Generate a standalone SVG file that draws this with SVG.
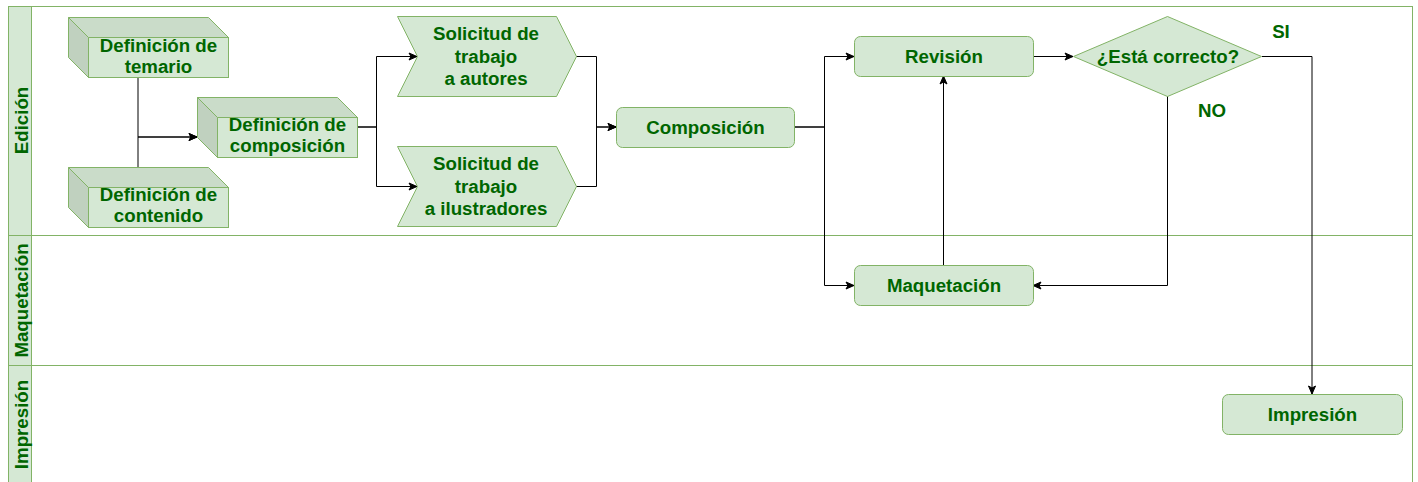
<svg xmlns="http://www.w3.org/2000/svg" width="1418" height="482" viewBox="0 0 1418 482">
<style>
.lane{fill:#ffffff;stroke:#82b366;stroke-width:1}
.hdr{fill:#d5e8d4;stroke:#82b366;stroke-width:1}
.box{fill:#d5e8d4;stroke:#82b366;stroke-width:1}
.top{fill:#cadcc9;stroke:#82b366;stroke-width:1}
.side{fill:#c0d1bf;stroke:#82b366;stroke-width:1}
.t{font-family:"Liberation Sans",Arial,Helvetica,sans-serif;font-weight:bold;font-size:18.7px;fill:#006600;text-anchor:middle}
.c{fill:none;stroke:#000000;stroke-width:1}
</style>
<defs>
<marker id="arr" markerUnits="userSpaceOnUse" markerWidth="10" markerHeight="10" viewBox="0 0 10 10" refX="9" refY="5" orient="auto">
<path d="M1,1.5 L9,5 L1,8.5 L3,5 Z" fill="#000000" stroke="#000000" stroke-width="1"/>
</marker>
</defs>

<g id="lane-edicion">
<rect class="lane" x="8.5" y="6.5" width="1404" height="229"/>
<rect class="hdr" x="8.5" y="6.5" width="23" height="229"/>
<text class="t" transform="translate(28,120.5) rotate(-90)">Edición</text>
</g>
<g id="lane-maquetacion">
<rect class="lane" x="8.5" y="235.5" width="1404" height="130"/>
<rect class="hdr" x="8.5" y="235.5" width="23" height="130"/>
<text class="t" transform="translate(28,300.5) rotate(-90)">Maquetación</text>
</g>
<g id="lane-impresion">
<rect class="lane" x="8.5" y="365.5" width="1404" height="120"/>
<rect class="hdr" x="8.5" y="365.5" width="23" height="120"/>
<text class="t" transform="translate(28,424.5) rotate(-90)">Impresión</text>
</g>

<g id="connectors">
<path class="c" d="M138,77 V137 H197" marker-end="url(#arr)"/>
<path class="c" d="M138,167 V137 H197" marker-end="url(#arr)"/>
<path class="c" d="M357,127 H376.5 V56.5 H417" marker-end="url(#arr)"/>
<path class="c" d="M357,127 H376.5 V186.5 H417" marker-end="url(#arr)"/>
<path class="c" d="M576,56.5 H596.5 V127 H616" marker-end="url(#arr)"/>
<path class="c" d="M576,186.5 H596.5 V127 H616" marker-end="url(#arr)"/>
<path class="c" d="M794,127 H824.5 V56.5 H854" marker-end="url(#arr)"/>
<path class="c" d="M794,127 H824.5 V285.5 H854" marker-end="url(#arr)"/>
<path class="c" d="M1033,56.5 H1073" marker-end="url(#arr)"/>
<path class="c" d="M943.5,265 V76" marker-end="url(#arr)"/>
<path class="c" d="M1167.5,96 V285.5 H1033" marker-end="url(#arr)"/>
<path class="c" d="M1262,56.5 H1312 V394" marker-end="url(#arr)"/>
<text class="t" x="1281" y="38">SI</text>
<text class="t" x="1212" y="117">NO</text>
</g>

<g id="def-temario">
<rect class="box" x="88.5" y="37.5" width="140" height="40"/>
<polygon class="top" points="68.5,17.5 208.5,17.5 228.5,37.5 88.5,37.5"/>
<polygon class="side" points="68.5,17.5 88.5,37.5 88.5,77.5 68.5,57.5"/>
<text class="t" x="158.5" y="52">Definición de</text>
<text class="t" x="158.5" y="73">temario</text>
</g>

<g id="def-contenido">
<rect class="box" x="88.5" y="187.5" width="140" height="40"/>
<polygon class="top" points="68.5,167.5 208.5,167.5 228.5,187.5 88.5,187.5"/>
<polygon class="side" points="68.5,167.5 88.5,187.5 88.5,227.5 68.5,207.5"/>
<text class="t" x="158.5" y="201">Definición de</text>
<text class="t" x="158.5" y="222">contenido</text>
</g>

<g id="def-composicion">
<rect class="box" x="217.5" y="117.5" width="140" height="40"/>
<polygon class="top" points="197.5,97.5 337.5,97.5 357.5,117.5 217.5,117.5"/>
<polygon class="side" points="197.5,97.5 217.5,117.5 217.5,157.5 197.5,137.5"/>
<text class="t" x="287.5" y="131">Definición de</text>
<text class="t" x="287.5" y="152">composición</text>
</g>

<g id="sol-autores">
<polygon class="box" points="397.5,16.5 556.5,16.5 576.5,56.5 556.5,96.5 397.5,96.5 417.5,56.5"/>
<text class="t" x="486" y="39.5">Solicitud de</text>
<text class="t" x="486" y="62.5">trabajo</text>
<text class="t" x="486" y="85">a autores</text>
</g>

<g id="sol-ilustradores">
<polygon class="box" points="397.5,146.5 556.5,146.5 576.5,186.5 556.5,226.5 397.5,226.5 417.5,186.5"/>
<text class="t" x="486" y="169.5">Solicitud de</text>
<text class="t" x="486" y="192.5">trabajo</text>
<text class="t" x="486" y="215">a ilustradores</text>
</g>

<g id="composicion">
<rect class="box" x="616.5" y="107.5" width="178" height="40" rx="6"/>
<text class="t" x="705.5" y="134">Composición</text>
</g>

<g id="revision">
<rect class="box" x="854.5" y="36.5" width="179" height="40" rx="6"/>
<text class="t" x="944" y="62.5">Revisión</text>
</g>

<g id="esta-correcto">
<polygon class="box" points="1073.5,56.5 1167.5,16.5 1261.5,56.5 1167.5,96.5"/>
<text class="t" x="1168" y="63">¿Está correcto?</text>
</g>

<g id="maquetacion">
<rect class="box" x="854.5" y="265.5" width="179" height="40" rx="6"/>
<text class="t" x="944" y="292">Maquetación</text>
</g>

<g id="impresion">
<rect class="box" x="1222.5" y="394.5" width="180" height="40" rx="6"/>
<text class="t" x="1312.5" y="421">Impresión</text>
</g>
</svg>
